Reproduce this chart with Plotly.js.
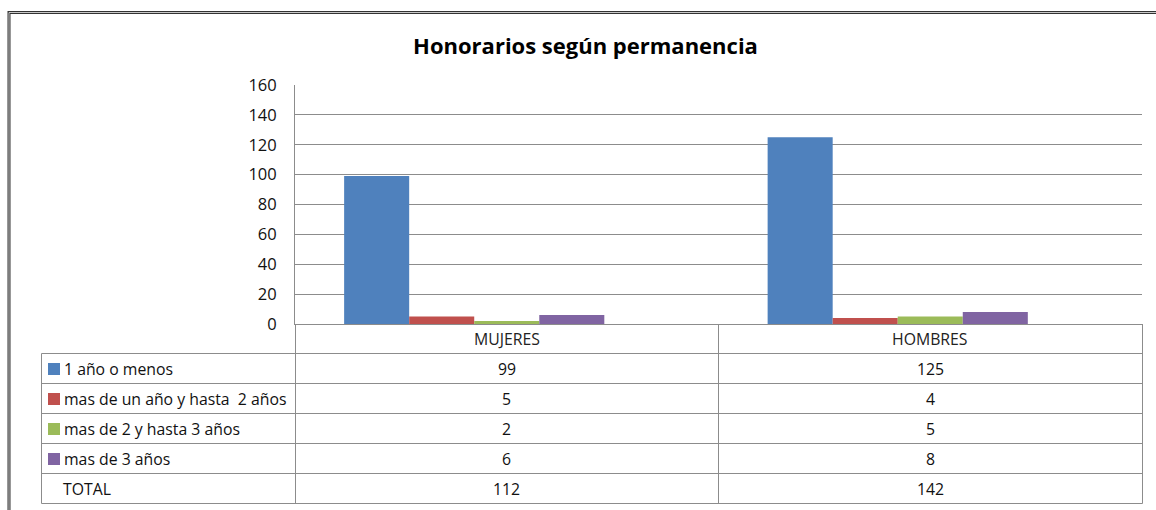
<!DOCTYPE html>
<html>
<head>
<meta charset="utf-8">
<script src="https://cdn.plot.ly/plotly-3.0.1.min.js"></script>
<style>html,body{margin:0;padding:0;background:#fff;}#chart{width:1156px;height:510px;}</style>
</head>
<body>
<div id="chart"></div>
<script>
var categories = ['MUJERES', 'HOMBRES'];
var seriesNames = ['1 año o menos', 'mas de un año y hasta  2 años', 'mas de 2 y hasta 3 años', 'mas de 3 años'];
var valuesUnAnio = [99, 125];
var valuesHasta2 = [5, 4];
var valuesHasta3 = [2, 5];
var valuesMas3 = [6, 8];
var totalName = 'TOTAL';
var totals = [112, 142];
var seriesColors = ['#4F81BD', '#C0504D', '#9BBB59', '#8064A2'];
var yTicks = [0, 20, 40, 60, 80, 100, 120, 140, 160];

var seriesValues = [valuesUnAnio, valuesHasta2, valuesHasta3, valuesMas3];

// pixel -> paper helpers (plot area: x 295..1142, y 85..324)
var L = 295, R = 1142, T = 85, B = 324;
function X(px) { return (px - L) / (R - L); }
function Y(py) { return (B - py) / (B - T); }

var FONT = '"Open Sans", sans-serif';
var GRID = '#8c8c8c';
var TS = 15.8;

var traces = seriesValues.map(function (vals, i) {
  return {
    type: 'bar', x: categories, y: vals, name: seriesNames[i],
    marker: { color: seriesColors[i] }, hoverinfo: 'skip'
  };
});
traces.push({
  type: 'bar', x: categories, y: totals, name: totalName,
  marker: { color: 'rgba(0,0,0,0)' }, hoverinfo: 'skip'
});

var shapes = [];
var annotations = [];

// outer frame (double line)
shapes.push({ type: 'rect', xref: 'paper', yref: 'paper', x0: X(9), x1: X(1175), y0: Y(12.5), y1: Y(530),
  line: { color: '#333', width: 3 } });
shapes.push({ type: 'rect', xref: 'paper', yref: 'paper', x0: X(9), x1: X(1175), y0: Y(12.5), y1: Y(530),
  line: { color: '#c8c8c8', width: 1 } });

// table lines
var rowLines = [353.5, 383.5, 413.5, 443.5, 473.5, 503.5];
rowLines.forEach(function (py) {
  shapes.push({ type: 'line', xref: 'paper', yref: 'paper', x0: X(41.5), x1: X(1142.5), y0: Y(py), y1: Y(py),
    line: { color: GRID, width: 1 } });
});
[295.5, 718.5, 1142.5].forEach(function (px) {
  shapes.push({ type: 'line', xref: 'paper', yref: 'paper', x0: X(px), x1: X(px), y0: Y(324), y1: Y(503.5),
    line: { color: GRID, width: 1 } });
});
shapes.push({ type: 'line', xref: 'paper', yref: 'paper', x0: X(41.5), x1: X(41.5), y0: Y(353.5), y1: Y(503.5),
  line: { color: GRID, width: 1 } });

// header row: categories
var rowCenters = [369, 399, 429, 459, 489];
categories.forEach(function (c, j) {
  annotations.push({ xref: 'x', yref: 'paper', x: c, y: Y(339), text: c, showarrow: false,
    xanchor: 'center', yanchor: 'middle', font: { family: FONT, size: TS, color: '#222' } });
});

// series rows
seriesNames.forEach(function (name, i) {
  var cy = rowCenters[i];
  shapes.push({ type: 'rect', xref: 'paper', yref: 'paper', x0: X(48), x1: X(60), y0: Y(cy - 6), y1: Y(cy + 6),
    fillcolor: seriesColors[i], line: { width: 0 } });
  annotations.push({ xref: 'paper', yref: 'paper', x: X(62), y: Y(cy), text: name, showarrow: false,
    xanchor: 'left', yanchor: 'middle', font: { family: FONT, size: TS, color: '#111' } });
  categories.forEach(function (c, j) {
    annotations.push({ xref: 'x', yref: 'paper', x: c, y: Y(cy), text: String(seriesValues[i][j]), showarrow: false,
      xanchor: 'center', yanchor: 'middle', font: { family: FONT, size: TS, color: '#111' } });
  });
});
// total row
annotations.push({ xref: 'paper', yref: 'paper', x: X(61), y: Y(rowCenters[4]), text: totalName, showarrow: false,
  xanchor: 'left', yanchor: 'middle', font: { family: FONT, size: TS, color: '#111' } });
categories.forEach(function (c, j) {
  annotations.push({ xref: 'x', yref: 'paper', x: c, y: Y(rowCenters[4]), text: String(totals[j]), showarrow: false,
    xanchor: 'center', yanchor: 'middle', font: { family: FONT, size: TS, color: '#111' } });
});

var layout = {
  width: 1156, height: 510,
  margin: { l: L, r: 1156 - R, t: T, b: 510 - B, pad: 0 },
  paper_bgcolor: '#fff', plot_bgcolor: '#fff',
  showlegend: false,
  barmode: 'group', bargap: 0.232, bargroupgap: 0,
  title: { text: '<b>Honorarios según permanencia</b>', xref: 'container', yref: 'container',
    x: 585.5 / 1156, y: 1 - 46 / 510, xanchor: 'center', yanchor: 'middle',
    font: { family: FONT, size: 22, color: '#000' } },
  xaxis: { type: 'category', range: [-0.5, 1.5], showticklabels: false, ticks: '',
    showline: true, linecolor: GRID, linewidth: 1, showgrid: false, zeroline: false, fixedrange: true },
  yaxis: { range: [0, 160], tickvals: yTicks, ticktext: yTicks.map(String), showgrid: true, gridcolor: GRID, gridwidth: 1,
    showline: true, linecolor: GRID, linewidth: 1, zeroline: false, ticks: '', ticklabelstandoff: 14,
    tickfont: { family: FONT, size: 16.5, color: '#111' }, fixedrange: true },
  shapes: shapes,
  annotations: annotations
};

Plotly.newPlot('chart', traces, layout, { displayModeBar: false, staticPlot: true });
</script>
</body>
</html>
